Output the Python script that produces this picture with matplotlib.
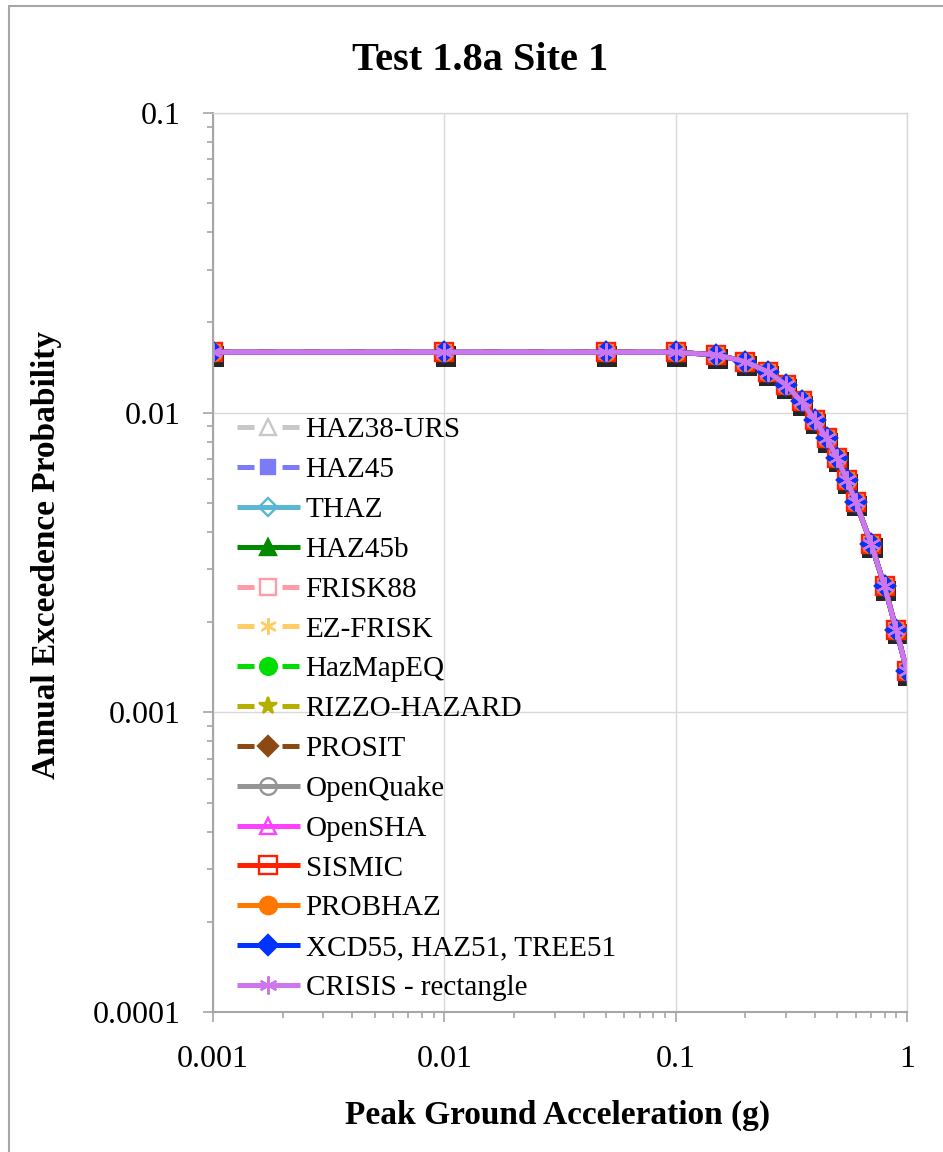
import numpy as np
import matplotlib
matplotlib.use("Agg")
import matplotlib.pyplot as plt
import matplotlib.ticker as mticker
from matplotlib.patches import Rectangle
import matplotlib.patheffects as pe

plt.rcParams["font.family"] = ["Liberation Serif", "DejaVu Serif"]

# hazard curve (all codes give the same curve)
pga = [0.001, 0.01, 0.05, 0.1, 0.15, 0.2, 0.25, 0.3, 0.35, 0.4, 0.45,
       0.5, 0.55, 0.6, 0.7, 0.8, 0.9, 1.0]
poe = [0.0159, 0.0159, 0.0159, 0.0159, 0.0156, 0.0148, 0.0137, 0.01237,
       0.0109, 0.00946, 0.0082, 0.00705, 0.00596, 0.00505, 0.00365,
       0.00263, 0.00188, 0.00137]

codes = ["HAZ38-URS", "HAZ45", "THAZ", "HAZ45b", "FRISK88", "EZ-FRISK",
         "HazMapEQ", "RIZZO-HAZARD", "PROSIT", "OpenQuake", "OpenSHA",
         "SISMIC", "PROBHAZ", "XCD55, HAZ51, TREE51", "CRISIS - rectangle"]

# name: (color, dashed, marker, filled, markersize)
styles = {
    "HAZ38-URS": ("#c8c8c8", True, "^", False, 11),
    "HAZ45": ("#7b7bf7", True, "s", True, 10),
    "THAZ": ("#5ab6d2", False, "D", False, 9),
    "HAZ45b": ("#008a00", False, "^", True, 11),
    "FRISK88": ("#ff9aa6", True, "s", False, 12),
    "EZ-FRISK": ("#ffcc66", True, (6, 2, 0), False, 12),
    "HazMapEQ": ("#00dd00", True, "o", True, 12),
    "RIZZO-HAZARD": ("#b5b000", True, "*", True, 13),
    "PROSIT": ("#8b4a14", True, "D", True, 10),
    "OpenQuake": ("#959595", False, "o", False, 12),
    "OpenSHA": ("#ff40ff", False, "^", False, 12),
    "SISMIC": ("#ff2000", False, "s", False, 13.5),
    "PROBHAZ": ("#ff7700", False, "o", True, 12.5),
    "XCD55, HAZ51, TREE51": ("#0033ff", False, "D", True, 10),
    "CRISIS - rectangle": ("#cc77ee", False, (6, 2, 0), False, 13),
}

fig = plt.figure(figsize=(9.43, 11.52), dpi=100)
W, H = 943.0, 1152.0
ax = fig.add_axes([213 / W, 1 - 1012 / H, (907 - 213) / W, (1012 - 113) / H])

# marker shadows
ax.plot(pga, poe, ls="none", marker="s", ms=14.5, color="k", zorder=1.5,
        path_effects=[pe.SimplePatchShadow(offset=(1, -3), shadow_rgbFace="k", alpha=0.85)])

for i, name in enumerate(codes):
    col, dashed, mk, filled, ms = styles[name]
    kw = dict(color=col, lw=3.6, marker=mk, ms=ms, mec=col,
              mfc=col if filled else "none", mew=1.7,
              label=name, zorder=2 + i * 0.01, solid_capstyle="butt")
    if dashed:
        kw["dashes"] = (3.4, 5.6)
        kw["dash_capstyle"] = "butt"
    ax.plot(pga, poe, **kw)

ax.set_xscale("log")
ax.set_yscale("log")
ax.set_xlim(0.001, 1)
ax.set_ylim(0.0001, 0.1)

fmt = mticker.FuncFormatter(lambda v, p: f"{v:g}")
ax.xaxis.set_major_formatter(fmt)
ax.yaxis.set_major_formatter(fmt)
ax.xaxis.set_minor_formatter(mticker.NullFormatter())
ax.yaxis.set_minor_formatter(mticker.NullFormatter())

ax.grid(True, which="major", color="#d9d9d9", lw=1)
ax.set_axisbelow(True)
for s in ["left", "bottom"]:
    ax.spines[s].set_color("#a6a6a6")
    ax.spines[s].set_linewidth(1.5)
for s in ["top", "right"]:
    ax.spines[s].set_color("#d9d9d9")
    ax.spines[s].set_linewidth(1)

ax.tick_params(which="major", direction="out", length=7.5, width=1.2,
               color="#a6a6a6", labelsize=23, pad=16, top=False, right=False)
ax.tick_params(which="minor", direction="out", length=4.5, width=1.2,
               color="#a6a6a6", top=False, right=False)

fig.text(480 / W, 1 - 70 / H, "Test 1.8a Site 1", fontsize=29, fontweight="bold",
         ha="center", va="baseline")
fig.text(558 / W, 1 - 1115 / H, "Peak Ground Acceleration (g)", fontsize=24,
         fontweight="bold", ha="center", va="center")
fig.text(47 / W, 1 - 555 / H, "Annual Exceedence Probability", fontsize=24,
         fontweight="bold", ha="center", va="center", rotation=90)

ax.legend(loc="upper left", bbox_to_anchor=(237 / W, 1 - 417 / H),
          bbox_transform=fig.transFigure, frameon=False, fontsize=21,
          handlelength=2.15, handletextpad=0.2, labelspacing=0.46,
          borderpad=0, borderaxespad=0)

fig.patches.append(Rectangle((9 / W, -0.02), 1.05, 1 - 6 / H + 0.02,
                             transform=fig.transFigure, fill=False,
                             edgecolor="#a6a6a6", lw=1.5))

fig.savefig("out.png", dpi=100)
